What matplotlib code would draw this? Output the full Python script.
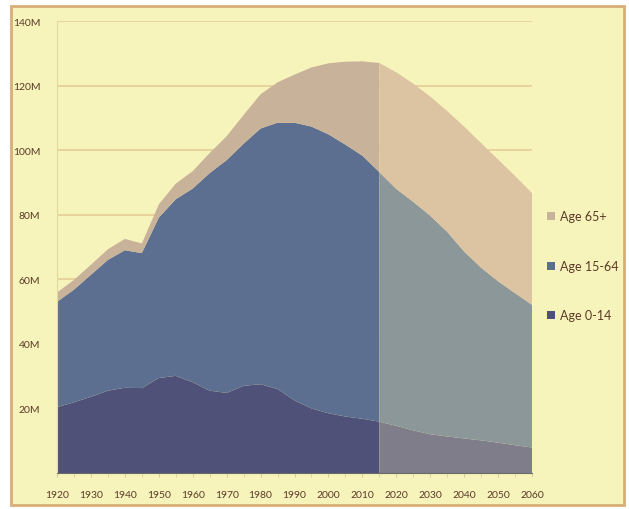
# Japan population by age group, 1920-2060 (stacked area, projection shaded lighter)

import numpy as np
import matplotlib.pyplot as plt
import matplotlib.patches as patches
from matplotlib.ticker import FuncFormatter, MultipleLocator

years = [1920, 1925, 1930, 1935, 1940, 1945, 1950, 1955, 1960, 1965,
         1970, 1975, 1980, 1985, 1990, 1995, 2000, 2005, 2010, 2015,
         2020, 2025, 2030, 2035, 2040, 2045, 2050, 2055, 2060]

# millions
age_0_14 = [20.4, 21.9, 23.6, 25.5, 26.4, 26.3, 29.4, 30.1, 28.1, 25.5,
            24.8, 27.0, 27.5, 26.0, 22.5, 20.0, 18.5, 17.5, 16.8, 15.9,
            14.6, 13.2, 12.0, 11.3, 10.7, 10.1, 9.4, 8.6, 7.9]
age_15_64 = [32.6, 34.9, 37.8, 40.5, 42.6, 41.8, 49.7, 54.7, 60.0, 67.4,
             72.1, 75.0, 79.2, 82.5, 86.0, 87.3, 86.4, 84.2, 81.5, 77.3,
             73.4, 70.8, 67.7, 63.4, 57.9, 53.5, 50.0, 47.1, 44.2]
age_65_plus = [2.9, 3.0, 3.1, 3.3, 3.5, 3.0, 4.1, 4.8, 5.4, 6.2,
               7.4, 8.9, 10.6, 12.5, 14.9, 18.3, 22.0, 25.7, 29.2, 33.8,
               36.1, 36.6, 36.9, 37.4, 38.7, 38.6, 37.7, 36.3, 34.6]

split_year = 2015
labels = ['Age 0-14', 'Age 15-64', 'Age 65+']

hist_colors = ['#4f5178', '#5c6f91', '#c8b29a']
proj_colors = ['#7e7d89', '#8c979a', '#dcc3a2']
bg = '#f7f4bb'
text_color = '#5a3a28'

yrs = np.array(years)
data = np.array([age_0_14, age_15_64, age_65_plus]) * 1e6
k = int(np.where(yrs == split_year)[0][0])

fig = plt.figure(figsize=(6.29, 5.10), dpi=100, facecolor='white')
fig.patches.append(patches.Rectangle((11 / 629, 4 / 510), 613 / 629, 499 / 510,
                                     transform=fig.transFigure, facecolor=bg,
                                     edgecolor='#d8ae78', linewidth=2, zorder=-10))

ax = fig.add_axes([57 / 629, 36 / 510, 475 / 629, 452 / 510])
ax.set_zorder(1)
ax.patch.set_alpha(0)

ax.stackplot(yrs[:k + 1], data[:, :k + 1], colors=hist_colors, labels=labels,
             linewidth=0, zorder=2)
ax.stackplot(yrs[k:], data[:, k:], colors=proj_colors, linewidth=0, zorder=2)

ax.set_xlim(1920, 2060)
ax.set_ylim(0, 140e6)
ax.set_yticks(np.arange(20e6, 141e6, 20e6))
ax.yaxis.set_major_formatter(FuncFormatter(lambda v, p: '%dM' % round(v / 1e6)))
ax.set_xticks(np.arange(1920, 2061, 10))
ax.xaxis.set_minor_locator(MultipleLocator(5))

ax.grid(axis='y', color='#e6cd98', linewidth=1.2, zorder=1)
ax.set_axisbelow(True)

for s in ['top', 'right']:
    ax.spines[s].set_visible(False)
ax.spines['left'].set_color('#e3d9a2')
ax.spines['bottom'].set_color('#6a6a6a')
ax.spines['bottom'].set_zorder(3)

ax.tick_params(axis='y', length=0, pad=12, labelsize=7.5, labelcolor=text_color)
ax.tick_params(axis='x', which='both', length=3, color='#d8cfa0', pad=9,
               labelsize=7.5, labelcolor=text_color)

handles, labs = ax.get_legend_handles_labels()
leg = fig.legend(handles[::-1], labs[::-1], loc='center left',
                 bbox_to_anchor=(536 / 629, 1 - 267 / 510), frameon=False,
                 handlelength=0.6, handleheight=0.6, handletextpad=0.4,
                 labelspacing=3.0, fontsize=9)
for t in leg.get_texts():
    t.set_color(text_color)
for t in ax.get_xticklabels() + ax.get_yticklabels() + leg.get_texts():
    t.set_family('Lato')

plt.savefig('out.png', dpi=100, facecolor='white')
